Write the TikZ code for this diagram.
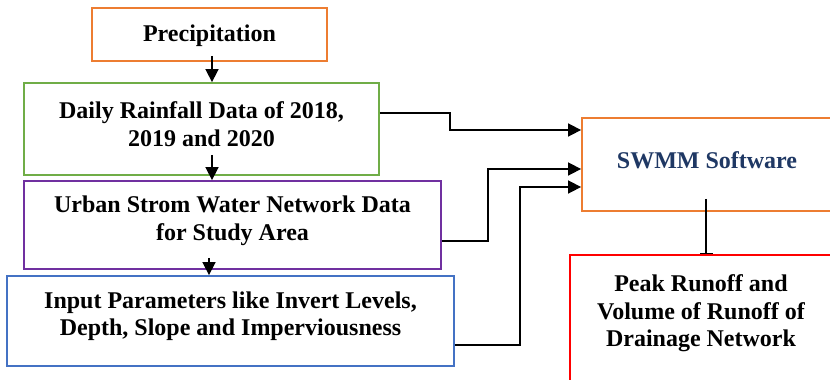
\documentclass[tikz,border=0pt]{standalone}
\usepackage{fontspec}
\setmainfont{Liberation Serif}
\usepackage{tikz}
\usetikzlibrary{arrows.meta}
\definecolor{precorange}{RGB}{237,125,49}
\definecolor{raingreen}{RGB}{112,173,71}
\definecolor{netpurple}{RGB}{112,48,160}
\definecolor{inputblue}{RGB}{68,114,196}
\definecolor{swmmtext}{RGB}{31,56,100}
\begin{document}
\begin{tikzpicture}[x=1pt, y=-1pt,
    box/.style={draw=#1, line width=1.8pt, inner sep=0pt},
    txt/.style={align=center, inner sep=0pt, yshift=#1,
      font=\fontsize{24}{27.5}\selectfont\bfseries},
    arr/.style={line width=1.6pt, -{Triangle[length=13pt,width=13pt]}}]
      \fill[white] (0,0) rectangle (830,380);
      \useasboundingbox (0,0) rectangle (830,380);
      % Boxes:
      \node[box=precorange, minimum width=235pt, minimum height=53pt,
        label={[txt=-1pt]center:Precipitation}] (prec) at (209.5,34.5) {};
      \node[box=raingreen, minimum width=355pt, minimum height=92pt,
        label={[txt=5pt]center:{Daily Rainfall Data of 2018,\\ 2019 and 2020}}] (rain) at (201.5,129) {};
      \node[box=netpurple, minimum width=417pt, minimum height=88pt,
        label={[txt=4pt]center:{Urban Strom Water Network Data\\ for Study Area}}] (urban) at (232.5,225) {};
      \node[box=inputblue, minimum width=447pt, minimum height=90pt,
        label={[txt=5pt]center:{Input Parameters like Invert Levels,\\ Depth, Slope and Imperviousness}}] (input) at (230.5,321) {};
      \node[box=precorange, minimum width=250pt, minimum height=93pt,
        label={[txt=4pt, text=swmmtext]center:SWMM Software}] (swmm) at (707,164.5) {};
      \node[box=red, minimum width=262pt, minimum height=127pt,
        label={[txt=5pt]center:{Peak Runoff and\\ Volume of Runoff of\\ Drainage Network}}] (peak) at (701,318.5) {};
      % Arrows:
      \draw[arr] ([xshift=2.5pt,yshift=6pt]prec.south) -- ([xshift=10.5pt]rain.north);
      \draw[arr] ([xshift=10.5pt,yshift=21pt]rain.south) -- ([xshift=-20.5pt]urban.north);
      \draw[arr] ([xshift=-23.5pt,yshift=12pt]urban.south) -- ([xshift=-21.5pt]input.north);
      \draw[arr] ([yshift=16pt]rain.east) -- ++(70,0) |- ([yshift=34.5pt]swmm.west);
      \draw[arr] ([yshift=-16pt]urban.east) -- ++(46,0) |- ([yshift=-4.5pt]swmm.west);
      \draw[arr] ([yshift=-24pt]input.east) -- ++(65,0) |- ([yshift=-22.5pt]swmm.west);
      \draw[line width=1.6pt, -{Bar[width=13pt]}] ([xshift=-1pt,yshift=13pt]swmm.south) -- ([xshift=-1pt]swmm.south |- peak.north);
    \end{tikzpicture}
\end{document}
